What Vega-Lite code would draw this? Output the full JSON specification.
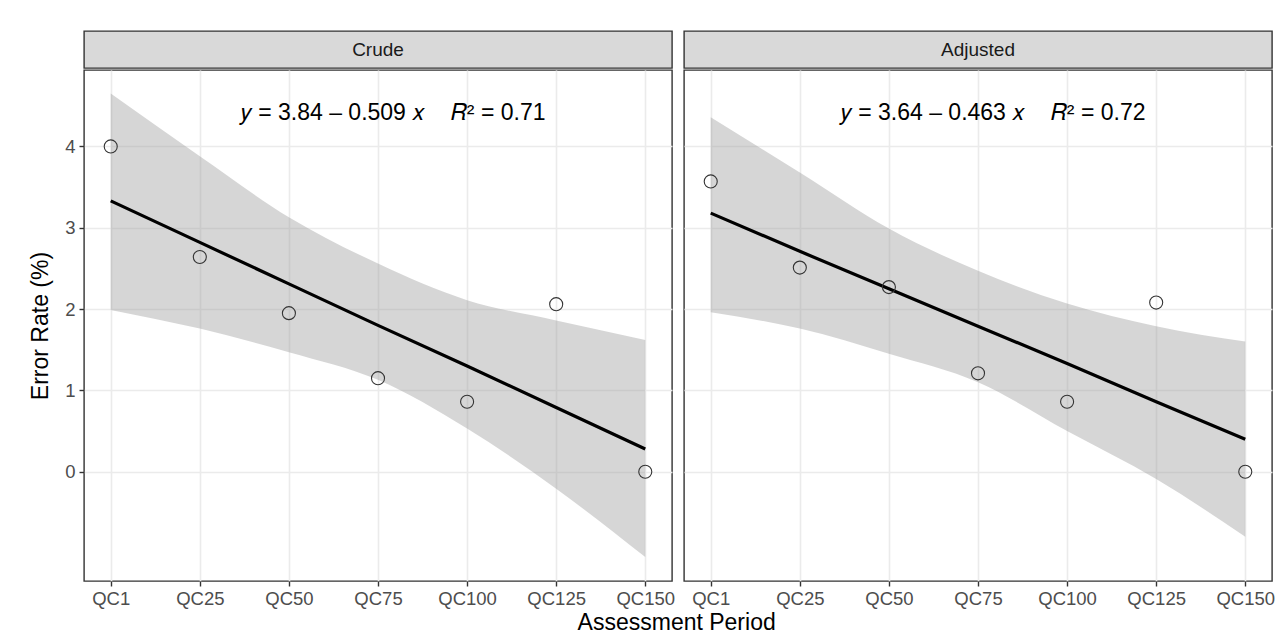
{
  "$schema": "https://vega.github.io/schema/vega-lite/v6.json",
  "background": "white",
  "padding": {"left": 29, "top": 30, "right": 5, "bottom": 5},
  "title": {"text": "Assessment Period", "orient": "bottom", "anchor": "middle", "fontSize": 23, "fontWeight": "normal", "color": "#000000", "font": "Liberation Sans", "offset": 4, "dx": 24.5},
  "datasets": {
    "pts": [
      {"panel": "Crude", "idx": 0, "period": "QC1", "rate": 4.0},
      {"panel": "Crude", "idx": 1, "period": "QC25", "rate": 2.64},
      {"panel": "Crude", "idx": 2, "period": "QC50", "rate": 1.95},
      {"panel": "Crude", "idx": 3, "period": "QC75", "rate": 1.15},
      {"panel": "Crude", "idx": 4, "period": "QC100", "rate": 0.86},
      {"panel": "Crude", "idx": 5, "period": "QC125", "rate": 2.06},
      {"panel": "Crude", "idx": 6, "period": "QC150", "rate": 0.0},
      {"panel": "Adjusted", "idx": 0, "period": "QC1", "rate": 3.57},
      {"panel": "Adjusted", "idx": 1, "period": "QC25", "rate": 2.51},
      {"panel": "Adjusted", "idx": 2, "period": "QC50", "rate": 2.27},
      {"panel": "Adjusted", "idx": 3, "period": "QC75", "rate": 1.21},
      {"panel": "Adjusted", "idx": 4, "period": "QC100", "rate": 0.86},
      {"panel": "Adjusted", "idx": 5, "period": "QC125", "rate": 2.08},
      {"panel": "Adjusted", "idx": 6, "period": "QC150", "rate": 0.0}
    ],
    "fit": [
      {"panel": "Crude", "idx": 0, "fit": 3.33, "lo": 1.99, "hi": 4.65},
      {"panel": "Crude", "idx": 1, "fit": 2.82, "lo": 1.76, "hi": 3.88},
      {"panel": "Crude", "idx": 2, "fit": 2.31, "lo": 1.47, "hi": 3.13},
      {"panel": "Crude", "idx": 3, "fit": 1.80, "lo": 1.13, "hi": 2.56},
      {"panel": "Crude", "idx": 4, "fit": 1.30, "lo": 0.53, "hi": 2.11},
      {"panel": "Crude", "idx": 5, "fit": 0.79, "lo": -0.21, "hi": 1.86},
      {"panel": "Crude", "idx": 6, "fit": 0.28, "lo": -1.05, "hi": 1.62},
      {"panel": "Adjusted", "idx": 0, "fit": 3.18, "lo": 1.96, "hi": 4.36},
      {"panel": "Adjusted", "idx": 1, "fit": 2.71, "lo": 1.76, "hi": 3.68},
      {"panel": "Adjusted", "idx": 2, "fit": 2.25, "lo": 1.45, "hi": 2.99},
      {"panel": "Adjusted", "idx": 3, "fit": 1.79, "lo": 1.10, "hi": 2.47},
      {"panel": "Adjusted", "idx": 4, "fit": 1.33, "lo": 0.50, "hi": 2.07},
      {"panel": "Adjusted", "idx": 5, "fit": 0.86, "lo": -0.09, "hi": 1.79},
      {"panel": "Adjusted", "idx": 6, "fit": 0.40, "lo": -0.80, "hi": 1.60}
    ],
    "eqs": [
      {"panel": "Crude", "label": "𝑦 = 3.84 – 0.509 𝑥\u00a0\u00a0\u00a0\u00a0𝑅² = 0.71"},
      {"panel": "Adjusted", "label": "𝑦 = 3.64 – 0.463 𝑥\u00a0\u00a0\u00a0\u00a0𝑅² = 0.72"}
    ]
  },
  "spacing": 7,
  "hconcat": [
    {
      "spacing": 0,
      "vconcat": [
        {
          "data": {"name": "eqs"},
          "transform": [{"filter": "datum.panel == 'Crude'"}],
          "width": 588, "height": 37,
          "view": {"fill": "#D9D9D9", "stroke": "#333333", "strokeWidth": 1.4},
          "mark": {"type": "text", "fontSize": 19, "color": "#1A1A1A", "baseline": "middle"},
          "encoding": {"text": {"field": "panel", "type": "nominal"}}
        },
        {
          "width": 588, "height": 511,
          "layer": [
            {
              "data": {"name": "fit"},
              "transform": [{"filter": "datum.panel == 'Crude'"}],
              "mark": {"type": "area", "color": "#999999", "opacity": 0.4, "interpolate": "monotone"},
              "encoding": {
                "x": {"field": "idx", "type": "quantitative",
                      "scale": {"domain": [-0.3, 6.3], "nice": false, "zero": false},
                      "axis": {"title": null, "values": [0, 1, 2, 3, 4, 5, 6],
                               "labelExpr": "['QC1','QC25','QC50','QC75','QC100','QC125','QC150'][datum.value]"}},
                "y": {"field": "lo", "type": "quantitative",
                      "scale": {"domain": [-1.344, 4.94], "nice": false, "zero": false},
                      "axis": {"title": "Error Rate (%)", "values": [0, 1, 2, 3, 4], "format": "d"}},
                "y2": {"field": "hi"}
              }
            },
            {
              "data": {"name": "fit"},
              "transform": [{"filter": "datum.panel == 'Crude'"}],
              "mark": {"type": "line", "color": "#000000", "strokeWidth": 3.2},
              "encoding": {
                "x": {"field": "idx", "type": "quantitative"},
                "y": {"field": "fit", "type": "quantitative"}
              }
            },
            {
              "data": {"name": "pts"},
              "transform": [{"filter": "datum.panel == 'Crude'"}],
              "mark": {"type": "point", "shape": "circle", "filled": false, "color": "#333333", "strokeWidth": 1.1, "size": 170, "opacity": 1},
              "encoding": {
                "x": {"field": "idx", "type": "quantitative"},
                "y": {"field": "rate", "type": "quantitative"}
              }
            },
            {
              "data": {"name": "eqs"},
              "transform": [{"filter": "datum.panel == 'Crude'"}],
              "mark": {"type": "text", "fontSize": 23, "color": "#000000", "baseline": "middle", "align": "center"},
              "encoding": {
                "x": {"datum": 3.17, "type": "quantitative"},
                "y": {"datum": 4.41, "type": "quantitative"},
                "text": {"field": "label", "type": "nominal"}
              }
            }
          ]
        }
      ]
    },
    {
      "spacing": 0,
      "vconcat": [
        {
          "data": {"name": "eqs"},
          "transform": [{"filter": "datum.panel == 'Adjusted'"}],
          "width": 588, "height": 37,
          "view": {"fill": "#D9D9D9", "stroke": "#333333", "strokeWidth": 1.4},
          "mark": {"type": "text", "fontSize": 19, "color": "#1A1A1A", "baseline": "middle"},
          "encoding": {"text": {"field": "panel", "type": "nominal"}}
        },
        {
          "width": 588, "height": 511,
          "layer": [
            {
              "data": {"name": "fit"},
              "transform": [{"filter": "datum.panel == 'Adjusted'"}],
              "mark": {"type": "area", "color": "#999999", "opacity": 0.4, "interpolate": "monotone"},
              "encoding": {
                "x": {"field": "idx", "type": "quantitative",
                      "scale": {"domain": [-0.3, 6.3], "nice": false, "zero": false},
                      "axis": {"title": null, "values": [0, 1, 2, 3, 4, 5, 6],
                               "labelExpr": "['QC1','QC25','QC50','QC75','QC100','QC125','QC150'][datum.value]"}},
                "y": {"field": "lo", "type": "quantitative",
                      "scale": {"domain": [-1.344, 4.94], "nice": false, "zero": false},
                      "axis": {"title": null, "values": [0, 1, 2, 3, 4], "labels": false, "ticks": false}},
                "y2": {"field": "hi"}
              }
            },
            {
              "data": {"name": "fit"},
              "transform": [{"filter": "datum.panel == 'Adjusted'"}],
              "mark": {"type": "line", "color": "#000000", "strokeWidth": 3.2},
              "encoding": {
                "x": {"field": "idx", "type": "quantitative"},
                "y": {"field": "fit", "type": "quantitative"}
              }
            },
            {
              "data": {"name": "pts"},
              "transform": [{"filter": "datum.panel == 'Adjusted'"}],
              "mark": {"type": "point", "shape": "circle", "filled": false, "color": "#333333", "strokeWidth": 1.1, "size": 170, "opacity": 1},
              "encoding": {
                "x": {"field": "idx", "type": "quantitative"},
                "y": {"field": "rate", "type": "quantitative"}
              }
            },
            {
              "data": {"name": "eqs"},
              "transform": [{"filter": "datum.panel == 'Adjusted'"}],
              "mark": {"type": "text", "fontSize": 23, "color": "#000000", "baseline": "middle", "align": "center"},
              "encoding": {
                "x": {"datum": 3.17, "type": "quantitative"},
                "y": {"datum": 4.41, "type": "quantitative"},
                "text": {"field": "label", "type": "nominal"}
              }
            }
          ]
        }
      ]
    }
  ],
  "config": {
    "font": "Liberation Sans",
    "view": {"stroke": "#333333", "strokeWidth": 1.4},
    "axis": {
      "domain": false,
      "grid": true,
      "gridColor": "#EBEBEB",
      "gridWidth": 1.6,
      "tickColor": "#333333",
      "tickWidth": 1.4,
      "tickSize": 5,
      "labelColor": "#4D4D4D",
      "labelFont": "Liberation Sans",
      "labelFontSize": 18.5,
      "labelPadding": 4,
      "titleFont": "Liberation Sans",
      "titleFontSize": 23,
      "titleFontWeight": "normal",
      "titleColor": "#000000",
      "titlePadding": 12
    },
    "axisX": {"labelPadding": 3}
  }
}
